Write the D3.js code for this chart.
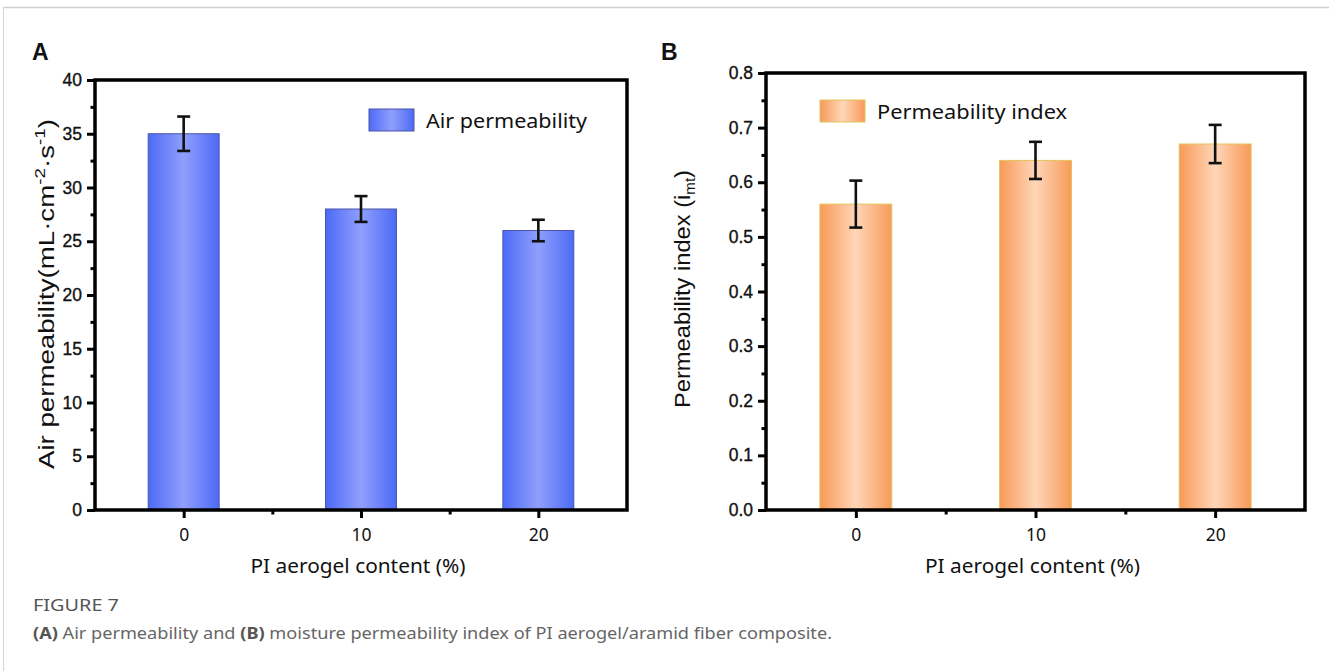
<!DOCTYPE html>
<html>
<head>
<meta charset="utf-8">
<script src="https://cdn.jsdelivr.net/npm/d3@7"></script>
<style>
  html, body { margin: 0; padding: 0; background: #fff; }
  svg { display: block; }
</style>
</head>
<body>
<svg id="chart" width="1329" height="671"></svg>
<script>
// ---- data ----
const categories = [0, 10, 20];
const airValues = [35, 28, 26];
const airErrors = [1.6, 1.2, 1.0];
const indexValues = [0.56, 0.64, 0.67];
const indexErrors = [0.043, 0.034, 0.035];
const airTicks = [0, 5, 10, 15, 20, 25, 30, 35, 40];
const airMinorTicks = [2.5, 7.5, 12.5, 17.5, 22.5, 27.5, 32.5, 37.5];
const indexTicks = [0.0, 0.1, 0.2, 0.3, 0.4, 0.5, 0.6, 0.7, 0.8];
const indexMinorTicks = [0.05, 0.15, 0.25, 0.35, 0.45, 0.55, 0.65, 0.75];
const xMinorTicks = [5, 15];
const xDomain = [-5, 25];
const barWidthUnits = 4;

const svg = d3.select("#chart");
const defs = svg.append("defs");

function grad(id, edge, mid) {
  const g = defs.append("linearGradient").attr("id", id)
    .attr("x1", "0%").attr("x2", "100%").attr("y1", "0%").attr("y2", "0%");
  g.append("stop").attr("offset", "0%").attr("stop-color", edge);
  g.append("stop").attr("offset", "50%").attr("stop-color", mid);
  g.append("stop").attr("offset", "100%").attr("stop-color", edge);
}
grad("gBlue", "#4d6af6", "#909ffc");
grad("gOrange", "#f89a58", "#fed6b8");

// figure frame
svg.append("line").attr("x1", 3).attr("x2", 1329).attr("y1", 7.5).attr("y2", 7.5)
  .attr("stroke", "#cfcfcf").attr("stroke-width", 1.5);
svg.append("line").attr("x1", 3.5).attr("x2", 3.5).attr("y1", 7).attr("y2", 671)
  .attr("stroke", "#d4d4d4").attr("stroke-width", 1);

function panel(cfg) {
  const x = d3.scaleLinear().domain(xDomain).range([cfg.left, cfg.right]);
  const y = d3.scaleLinear().domain(cfg.yDomain).range([cfg.bottom, cfg.top]);
  const g = svg.append("g");

  // panel letter
  g.append("text").attr("x", cfg.letterX).attr("y", 60)
    .attr("font-family", "Liberation Sans, Arial, sans-serif").attr("font-weight", "bold")
    .attr("font-size", 23).attr("fill", "#111").text(cfg.letter);

  // bars
  const bw = x(barWidthUnits) - x(0);
  g.selectAll("rect.bar").data(categories).join("rect")
    .attr("class", "bar")
    .attr("x", (d) => x(d) - bw / 2)
    .attr("width", bw)
    .attr("y", (d, i) => y(cfg.values[i]))
    .attr("height", (d, i) => y(0) - y(cfg.values[i]))
    .attr("fill", `url(#${cfg.grad})`)
    .attr("stroke", cfg.barStroke).attr("stroke-width", 1);

  // error bars
  const eg = g.append("g").attr("stroke", "#111").attr("stroke-width", 2.6);
  categories.forEach((d, i) => {
    const cx = x(d), v = cfg.values[i], e = cfg.errors[i];
    eg.append("line").attr("x1", cx).attr("x2", cx).attr("y1", y(v + e)).attr("y2", y(v - e));
    eg.append("line").attr("x1", cx - 6.5).attr("x2", cx + 6.5).attr("y1", y(v + e)).attr("y2", y(v + e));
    eg.append("line").attr("x1", cx - 6.5).attr("x2", cx + 6.5).attr("y1", y(v - e)).attr("y2", y(v - e));
  });

  // y axis
  const yAxis = d3.axisLeft(y).tickValues(cfg.yTicks).tickSize(8).tickPadding(5)
    .tickFormat(cfg.yFormat);
  const ya = g.append("g").attr("transform", `translate(${cfg.left},0)`).call(yAxis);
  ya.select(".domain").remove();
  ya.selectAll("line").attr("stroke", "#000").attr("stroke-width", 3);
  ya.selectAll("text").attr("font-family", "Liberation Sans, Arial, sans-serif")
    .attr("font-size", 17.5).attr("fill", "#111").attr("stroke", "#111").attr("stroke-width", 0.35);
  const yMinor = d3.axisLeft(y).tickValues(cfg.yMinor).tickSize(4.5).tickFormat("");
  const ym = g.append("g").attr("transform", `translate(${cfg.left},0)`).call(yMinor);
  ym.select(".domain").remove();
  ym.selectAll("line").attr("stroke", "#000").attr("stroke-width", 3);

  // x axis
  const xAxis = d3.axisBottom(x).tickValues(categories).tickSize(8).tickPadding(11)
    .tickFormat(d3.format("d"));
  const xa = g.append("g").attr("transform", `translate(0,${cfg.bottom})`).call(xAxis);
  xa.select(".domain").remove();
  xa.selectAll("line").attr("stroke", "#000").attr("stroke-width", 3);
  xa.selectAll("text").attr("font-family", "Noto Sans, sans-serif")
    .attr("font-size", 17.5).attr("fill", "#111");
  const xMinor = d3.axisBottom(x).tickValues(xMinorTicks).tickSize(4.5).tickFormat("");
  const xm = g.append("g").attr("transform", `translate(0,${cfg.bottom})`).call(xMinor);
  xm.select(".domain").remove();
  xm.selectAll("line").attr("stroke", "#000").attr("stroke-width", 3);

  // frame
  g.append("rect").attr("x", cfg.left).attr("y", cfg.top)
    .attr("width", cfg.right - cfg.left).attr("height", cfg.bottom - cfg.top)
    .attr("fill", "none").attr("stroke", "#000").attr("stroke-width", 3.5);

  // x title
  g.append("text").attr("x", (cfg.left + cfg.right) / 2 - 3).attr("y", cfg.bottom + 63)
    .attr("text-anchor", "middle").attr("font-family", "Noto Sans, sans-serif")
    .attr("font-size", 20.5).attr("fill", "#111")
    .attr("textLength", 215).attr("lengthAdjust", "spacingAndGlyphs")
    .text("PI aerogel content (%)");

  // y title
  const yt = g.append("text")
    .attr("transform", `translate(${cfg.yTitleX},${cfg.yTitleY}) rotate(-90)`)
    .attr("text-anchor", "middle").attr("font-family", "Liberation Sans, Arial, sans-serif")
    .attr("font-size", 22).attr("fill", "#111")
    .attr("textLength", cfg.yTitleLen).attr("lengthAdjust", "spacingAndGlyphs");
  cfg.yTitle(yt);

  // legend
  g.append("rect").attr("x", cfg.legX).attr("y", cfg.legY).attr("width", 45).attr("height", 22)
    .attr("fill", `url(#${cfg.grad})`).attr("stroke", cfg.barStroke).attr("stroke-width", 1);
  g.append("text").attr("x", cfg.legX + 57).attr("y", cfg.legY + 19)
    .attr("font-family", "Noto Sans, sans-serif").attr("font-size", 20).attr("fill", "#111")
    .attr("textLength", cfg.legLen).attr("lengthAdjust", "spacingAndGlyphs")
    .text(cfg.legText);
}

panel({
  letter: "A", letterX: 32,
  left: 95, right: 627, top: 80, bottom: 510,
  yDomain: [0, 40], yTicks: airTicks, yMinor: airMinorTicks, yFormat: d3.format("d"),
  values: airValues, errors: airErrors,
  grad: "gBlue", barStroke: "#4a55a8",
  yTitleX: 54, yTitleY: 294, yTitleLen: 350,
  yTitle: (t) => {
    t.append("tspan").text("Air permeability(mL·cm");
    t.append("tspan").attr("font-size", 15).attr("dy", -9).text("-2");
    t.append("tspan").attr("dy", 9).text("·s");
    t.append("tspan").attr("font-size", 15).attr("dy", -9).text("-1");
    t.append("tspan").attr("dy", 9).text(")");
  },
  legX: 369, legY: 109, legText: "Air permeability", legLen: 161
});

panel({
  letter: "B", letterX: 661,
  left: 766, right: 1305, top: 73, bottom: 510,
  yDomain: [0, 0.8], yTicks: indexTicks, yMinor: indexMinorTicks, yFormat: d3.format(".1f"),
  values: indexValues, errors: indexErrors,
  grad: "gOrange", barStroke: "#e3c45a",
  yTitleX: 690, yTitleY: 289, yTitleLen: 238,
  yTitle: (t) => {
    t.append("tspan").text("Permeability index (i");
    t.append("tspan").attr("font-size", 14).attr("dy", 5).text("mt");
    t.append("tspan").attr("dy", -5).text(")");
  },
  legX: 820, legY: 100, legText: "Permeability index", legLen: 190
});

// caption
svg.append("text").attr("x", 33).attr("y", 611)
  .attr("font-family", "Noto Sans, sans-serif").attr("font-size", 16.5).attr("fill", "#555")
  .attr("textLength", 86).attr("lengthAdjust", "spacingAndGlyphs")
  .text("FIGURE 7");
const cap = svg.append("text").attr("x", 33).attr("y", 639)
  .attr("font-family", "Noto Sans, sans-serif").attr("font-size", 16.5).attr("fill", "#666")
  .attr("textLength", 799).attr("lengthAdjust", "spacingAndGlyphs");
cap.append("tspan").attr("font-weight", "bold").attr("fill", "#555").text("(A)");
cap.append("tspan").text(" Air permeability and ");
cap.append("tspan").attr("font-weight", "bold").attr("fill", "#555").text("(B)");
cap.append("tspan").text(" moisture permeability index of PI aerogel/aramid fiber composite.");
</script>
</body>
</html>
